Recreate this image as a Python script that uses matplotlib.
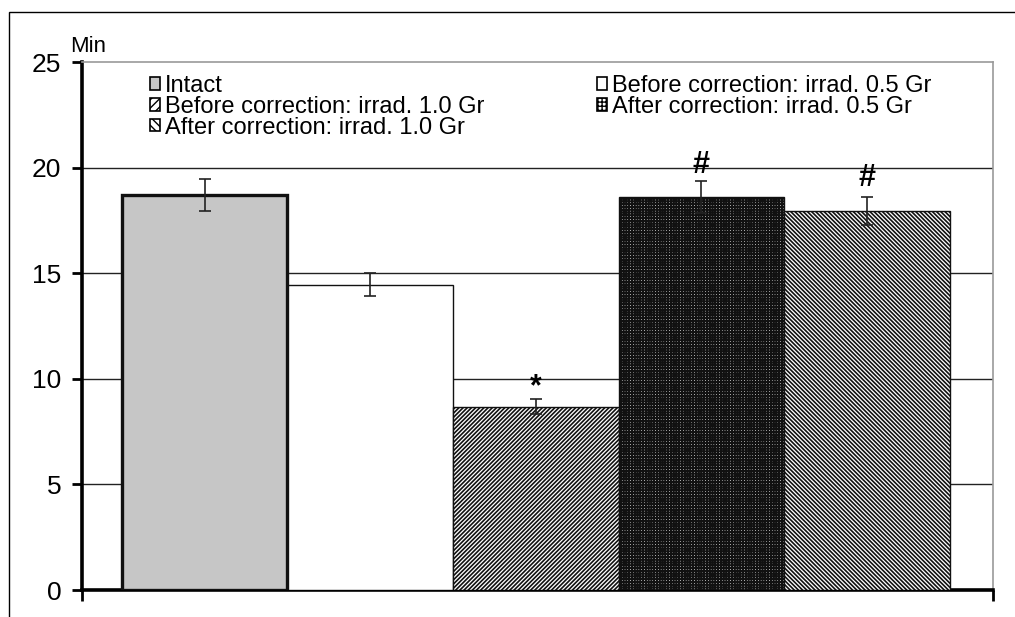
import matplotlib
matplotlib.use("Agg")
import matplotlib.pyplot as plt
from matplotlib.patches import Patch, Rectangle

plt.rcParams['font.family'] = ['Liberation Sans', 'DejaVu Sans']

# data (minutes)
groups = ['Intact',
          'Before correction: irrad. 0.5 Gr',
          'Before correction: irrad. 1.0 Gr',
          'After correction: irrad. 0.5 Gr',
          'After correction: irrad. 1.0 Gr']
values = [18.7, 14.45, 8.68, 18.62, 17.96]
errors = [0.75, 0.55, 0.35, 0.75, 0.67]
marks = ['', '', '*', '#', '#']
mark_y = [0, 0, 9.6, 20.1, 19.5]

yticks = [0, 5, 10, 15, 20, 25]

# styles
faces = ['#c6c6c6', 'white', 'white', 'white', 'white']
hatches = [None, None, '////////', '++++++', '\\\\\\\\\\\\\\\\']
edge_w = [2.4, 1.0, 1.0, 1.0, 1.0]
hatch_w = [1.0, 1.0, 1.2, 1.4, 1.2]

fig = plt.figure(figsize=(10.15, 6.17), dpi=100)
ax = fig.add_axes([82 / 1015, 27 / 617, 911 / 1015, 528 / 617])

# outer frame of the picture (left and top)
fig.patches.append(Rectangle((9 / 1015, -0.1), 1.2, (617 - 12) / 617 + 0.1,
                             transform=fig.transFigure, fill=False,
                             edgecolor='black', linewidth=1.0))

x = range(len(values))
for i in x:
    with plt.rc_context({'hatch.linewidth': hatch_w[i]}):
        ax.bar(i, values[i], width=1.0, color=faces[i], edgecolor='#111111',
               hatch=hatches[i], linewidth=edge_w[i],
               zorder=3 if i != 0 else 4)

ax.errorbar(list(x), values, yerr=errors, fmt='none', ecolor='#222222',
            elinewidth=1.2, capsize=4, capthick=1.2, zorder=5)

for i in x:
    if marks[i]:
        ax.text(i, mark_y[i], marks[i], ha='center', va='center',
                fontsize=22, fontweight='bold', zorder=6)

ax.set_xlim(-0.74, 4.76)
ax.set_ylim(0, 25)
ax.set_yticks(yticks)
ax.set_yticklabels([str(t) for t in yticks], fontsize=19)
ax.set_xticks([-0.74, 4.76])
ax.set_xticklabels(['', ''])
ax.tick_params(axis='y', direction='out', length=7, width=2, pad=8)
ax.tick_params(axis='x', direction='out', length=8, width=2)

for t in yticks[1:-1]:
    ax.axhline(t, color='#222222', linewidth=1.0, zorder=1)

ax.spines['left'].set_linewidth(2.6)
ax.spines['bottom'].set_linewidth(2.6)
ax.spines['top'].set_color('#999999')
ax.spines['right'].set_color('#999999')
ax.spines['top'].set_linewidth(1.2)
ax.spines['right'].set_linewidth(1.2)

fig.text(70 / 1015, 1 - 46 / 617, 'Min', fontsize=16, va='center', ha='left')

# legend: column 1 has three entries, column 2 two
order = [0, 2, 4, 1, 3]
handles = []
for i in order:
    hatch = hatches[i][:4] if hatches[i] else None
    with plt.rc_context({'hatch.linewidth': hatch_w[i] * 0.8}):
        handles.append(Patch(facecolor=faces[i], edgecolor='black',
                             hatch=hatch, linewidth=1.2,
                             label=groups[i]))
ax.legend(handles=handles, loc='upper left', ncol=2, frameon=False,
          bbox_to_anchor=(150 / 1015, 1 - 75 / 617),
          bbox_transform=fig.transFigure, fontsize=17, borderpad=0,
          handlelength=0.42, handleheight=0.42, handletextpad=0.2,
          labelspacing=-0.05, columnspacing=4.8, borderaxespad=0)

fig.savefig('out.png', dpi=100)
